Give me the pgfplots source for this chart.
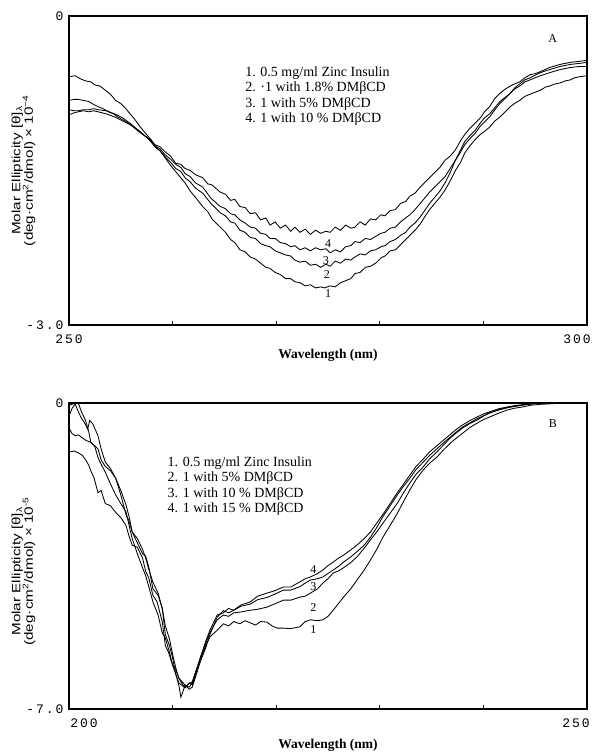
\documentclass[border=0pt]{standalone}
\usepackage{fontspec}
\setmainfont{Liberation Serif}
\setsansfont{Liberation Sans}
\newfontfamily\tickfont{Liberation Mono}[LetterSpace=15]
\usepackage{graphicx}
\usepackage{pgfplots}
\pgfplotsset{compat=1.18}
\tikzset{lbl/.style={font=\fontsize{12}{12}\selectfont}}
\newcommand{\wide}[1]{\scalebox{1.27}[1]{#1}}

\pgfplotstableread{
x y
250.0 -0.59
250.6 -0.58
251.1 -0.61
251.6 -0.63
252.1 -0.64
252.5 -0.67
253.0 -0.68
253.5 -0.72
254.0 -0.76
254.5 -0.82
255.0 -0.85
255.4 -0.89
255.9 -0.95
256.4 -1.01
256.9 -1.08
257.4 -1.14
257.9 -1.20
258.3 -1.27
258.8 -1.31
259.3 -1.38
259.8 -1.45
260.3 -1.51
260.7 -1.56
261.2 -1.62
261.7 -1.70
262.2 -1.76
262.9 -1.85
263.4 -1.90
263.8 -1.97
264.6 -2.05
265.1 -2.10
265.6 -2.17
266.0 -2.20
266.5 -2.27
267.0 -2.29
267.5 -2.34
268.0 -2.36
268.5 -2.40
269.0 -2.44
269.4 -2.45
269.9 -2.49
270.4 -2.51
270.9 -2.55
271.4 -2.55
271.8 -2.58
272.3 -2.59
272.8 -2.62
273.3 -2.61
273.8 -2.64
274.3 -2.63
274.7 -2.64
275.2 -2.62
275.7 -2.63
276.2 -2.59
276.7 -2.57
277.2 -2.55
277.6 -2.50
278.1 -2.49
278.6 -2.44
279.1 -2.43
279.6 -2.40
280.1 -2.35
280.5 -2.33
281.0 -2.28
281.5 -2.27
282.0 -2.22
282.5 -2.17
282.9 -2.13
283.4 -2.08
283.9 -2.02
284.4 -1.94
284.8 -1.88
285.3 -1.82
285.8 -1.76
286.3 -1.69
286.8 -1.60
287.3 -1.50
287.8 -1.42
288.2 -1.33
288.7 -1.26
289.2 -1.20
289.7 -1.15
290.1 -1.12
290.6 -1.08
291.1 -1.02
291.6 -0.98
292.1 -0.93
292.6 -0.88
293.0 -0.85
293.5 -0.82
294.0 -0.78
294.5 -0.76
295.0 -0.74
295.5 -0.72
296.0 -0.69
296.4 -0.68
296.9 -0.66
297.4 -0.65
297.9 -0.63
298.4 -0.62
298.8 -0.60
299.3 -0.59
300.0 -0.58
}\topone

\pgfplotstableread{
x y
250.0 -0.82
250.5 -0.81
250.9 -0.81
251.4 -0.82
251.9 -0.83
252.4 -0.86
252.8 -0.88
253.3 -0.90
253.8 -0.93
254.3 -0.95
254.7 -0.98
255.4 -1.02
256.0 -1.06
256.7 -1.12
257.4 -1.17
257.9 -1.22
258.3 -1.27
258.8 -1.31
259.3 -1.37
259.8 -1.42
260.3 -1.48
260.8 -1.51
261.2 -1.57
261.7 -1.61
262.2 -1.67
262.9 -1.72
263.7 -1.82
264.6 -1.91
265.1 -1.94
265.6 -2.00
266.0 -2.01
266.5 -2.08
267.0 -2.10
267.5 -2.15
268.0 -2.16
268.5 -2.21
269.0 -2.23
269.4 -2.24
269.9 -2.28
270.4 -2.30
270.9 -2.32
271.4 -2.33
271.8 -2.37
272.3 -2.39
272.8 -2.38
273.3 -2.42
273.8 -2.41
274.3 -2.44
274.8 -2.41
275.2 -2.43
275.7 -2.38
276.2 -2.40
276.7 -2.36
277.2 -2.37
277.6 -2.34
278.1 -2.31
278.6 -2.32
279.1 -2.28
279.6 -2.27
280.1 -2.24
280.5 -2.23
281.0 -2.19
281.5 -2.17
282.0 -2.13
282.5 -2.10
282.9 -2.05
283.4 -2.01
283.9 -1.95
284.4 -1.88
284.8 -1.82
285.3 -1.76
285.8 -1.70
286.3 -1.62
286.8 -1.52
287.3 -1.40
287.8 -1.32
288.2 -1.25
288.7 -1.19
289.2 -1.14
289.7 -1.07
290.1 -1.03
290.6 -0.98
291.1 -0.91
291.6 -0.85
292.1 -0.80
292.6 -0.75
293.0 -0.71
293.5 -0.68
294.0 -0.64
294.5 -0.62
295.5 -0.58
296.4 -0.55
297.4 -0.52
298.4 -0.50
299.3 -0.49
300.0 -0.49
}\toptwo

\pgfplotstableread{
x y
250.0 -0.96
250.5 -0.94
250.9 -0.93
251.4 -0.92
251.9 -0.93
252.4 -0.92
252.8 -0.93
253.6 -0.95
254.4 -0.98
255.2 -1.02
256.0 -1.06
256.7 -1.11
257.4 -1.17
257.9 -1.21
258.3 -1.26
258.8 -1.29
259.3 -1.35
259.8 -1.39
260.3 -1.44
260.8 -1.47
261.2 -1.53
261.7 -1.56
262.2 -1.62
262.9 -1.66
263.7 -1.77
264.6 -1.85
265.1 -1.87
265.6 -1.92
266.0 -1.93
266.5 -1.98
267.0 -2.01
267.5 -2.05
268.0 -2.06
268.5 -2.11
269.0 -2.12
269.4 -2.16
269.9 -2.16
270.4 -2.20
270.9 -2.21
271.4 -2.24
271.8 -2.23
272.3 -2.27
272.8 -2.25
273.3 -2.28
273.8 -2.25
274.3 -2.27
274.8 -2.26
275.2 -2.30
275.7 -2.27
276.2 -2.29
276.7 -2.24
277.2 -2.23
277.6 -2.19
278.1 -2.20
278.6 -2.16
279.1 -2.17
279.6 -2.14
280.1 -2.11
280.5 -2.10
281.0 -2.06
281.5 -2.05
282.0 -2.00
282.5 -1.96
282.9 -1.93
283.4 -1.88
283.9 -1.82
284.4 -1.76
284.8 -1.71
285.3 -1.66
285.8 -1.61
286.3 -1.56
286.8 -1.48
287.3 -1.40
287.8 -1.30
288.2 -1.22
288.7 -1.16
289.2 -1.11
289.7 -1.04
290.1 -0.99
290.6 -0.95
291.1 -0.89
291.6 -0.83
292.1 -0.79
292.6 -0.75
293.0 -0.70
293.5 -0.66
294.0 -0.62
294.5 -0.60
295.5 -0.55
296.4 -0.52
297.4 -0.49
298.4 -0.47
299.3 -0.46
300.0 -0.45
}\topthree

\pgfplotstableread{
x y
250.0 -0.91
250.5 -0.92
250.9 -0.92
251.4 -0.91
251.9 -0.91
252.4 -0.90
252.8 -0.91
253.6 -0.92
254.4 -0.95
255.2 -0.99
256.0 -1.05
256.7 -1.11
257.4 -1.17
257.9 -1.20
258.3 -1.25
258.8 -1.27
259.3 -1.32
259.8 -1.36
260.3 -1.43
260.8 -1.44
261.2 -1.48
261.7 -1.50
262.2 -1.54
262.9 -1.57
263.4 -1.63
263.8 -1.64
264.6 -1.71
265.1 -1.73
265.6 -1.79
266.0 -1.78
266.5 -1.85
267.0 -1.86
267.5 -1.92
268.0 -1.91
268.5 -1.98
269.0 -1.96
269.4 -2.03
269.9 -2.00
270.4 -2.06
270.9 -2.03
271.4 -2.09
271.8 -2.05
272.3 -2.10
272.8 -2.07
273.3 -2.12
273.8 -2.08
274.3 -2.11
274.8 -2.09
275.2 -2.10
275.7 -2.05
276.2 -2.08
276.7 -2.03
277.2 -2.06
277.6 -2.05
278.1 -2.00
278.6 -2.03
279.1 -1.97
279.6 -1.98
280.1 -1.93
280.5 -1.94
281.0 -1.89
281.5 -1.88
282.0 -1.82
282.5 -1.80
282.9 -1.75
283.4 -1.72
283.9 -1.66
284.4 -1.61
284.8 -1.57
285.3 -1.52
285.8 -1.47
286.3 -1.40
286.8 -1.36
287.3 -1.30
287.8 -1.21
288.2 -1.15
288.7 -1.09
289.2 -1.04
289.7 -0.99
290.1 -0.93
290.6 -0.88
291.1 -0.80
291.6 -0.75
292.1 -0.71
292.6 -0.68
293.0 -0.66
293.5 -0.64
294.0 -0.60
294.5 -0.57
295.0 -0.56
295.5 -0.54
296.4 -0.50
297.4 -0.47
298.4 -0.45
299.3 -0.44
300.0 -0.43
}\topfour

\pgfplotstableread{
x y
200.0 -1.12
200.5 -1.10
200.9 -1.14
201.3 -1.20
201.6 -1.30
201.9 -1.42
202.1 -1.55
202.4 -1.70
202.8 -2.05
203.1 -2.00
203.5 -2.30
204.0 -2.35
204.5 -2.50
205.0 -2.62
205.5 -2.80
205.8 -3.05
206.1 -3.25
206.6 -3.30
207.1 -3.55
207.4 -3.85
207.7 -4.00
208.1 -4.40
208.5 -4.55
209.0 -5.00
209.3 -5.55
209.6 -5.70
210.0 -6.00
210.3 -6.20
210.6 -6.45
210.8 -6.73
211.0 -6.60
211.2 -6.45
211.6 -6.50
211.9 -6.40
212.3 -6.10
212.7 -5.85
213.2 -5.55
213.6 -5.35
214.3 -5.20
214.9 -5.05
215.4 -5.10
215.9 -5.00
216.5 -5.05
217.0 -4.98
217.5 -5.03
218.0 -5.08
218.5 -5.00
219.1 -5.01
219.6 -5.10
220.1 -5.15
220.7 -5.15
221.4 -5.16
222.3 -5.12
222.8 -5.00
223.3 -4.96
224.0 -4.98
224.5 -4.96
225.0 -4.88
225.5 -4.74
226.5 -4.44
227.2 -4.25
227.8 -4.05
228.5 -3.82
229.1 -3.59
229.7 -3.35
230.3 -3.07
231.0 -2.80
231.7 -2.52
232.3 -2.25
232.9 -1.99
233.5 -1.75
234.2 -1.53
234.8 -1.38
235.5 -1.24
236.2 -1.06
236.8 -0.92
237.4 -0.80
238.0 -0.69
238.7 -0.56
239.4 -0.46
240.0 -0.38
240.6 -0.32
241.5 -0.23
242.3 -0.16
243.0 -0.12
243.8 -0.09
244.6 -0.05
245.5 -0.03
247.1 -0.01
248.5 0.00
250.0 0.00
}\botone

\pgfplotstableread{
x y
200.0 -0.57
200.3 -0.70
200.6 -0.75
200.9 -0.73
201.3 -0.80
201.6 -0.85
202.1 -0.90
202.5 -0.98
202.8 -1.05
203.1 -1.30
203.5 -1.45
204.0 -1.55
204.5 -1.72
205.0 -2.00
205.5 -2.33
205.8 -2.60
206.1 -2.95
206.6 -3.10
207.1 -3.35
207.4 -3.55
207.7 -3.80
208.1 -4.10
208.6 -4.35
209.0 -4.70
209.3 -5.10
209.7 -5.40
210.0 -5.75
210.3 -6.05
210.6 -6.30
211.0 -6.45
211.2 -6.50
211.6 -6.42
211.9 -6.38
212.3 -6.10
212.7 -5.81
213.2 -5.50
213.6 -5.25
214.3 -4.96
214.9 -4.85
215.4 -4.88
215.9 -4.80
216.6 -4.78
217.5 -4.74
218.2 -4.72
219.1 -4.67
219.8 -4.60
220.7 -4.51
221.4 -4.51
222.3 -4.44
222.8 -4.42
223.3 -4.35
224.0 -4.25
224.5 -4.12
225.0 -4.02
225.5 -3.89
226.0 -3.84
226.5 -3.77
227.2 -3.65
227.8 -3.52
228.5 -3.32
229.1 -3.13
229.7 -2.95
230.3 -2.75
231.0 -2.52
231.7 -2.29
232.3 -2.05
232.9 -1.83
233.5 -1.63
234.2 -1.46
234.8 -1.28
235.5 -1.12
236.2 -0.95
236.8 -0.80
237.4 -0.68
238.0 -0.57
238.7 -0.47
239.4 -0.39
240.0 -0.30
240.6 -0.23
241.5 -0.16
242.3 -0.11
243.0 -0.08
243.8 -0.05
244.6 -0.02
245.5 0.00
250.0 0.00
}\bottwo

\pgfplotstableread{
x y
200.0 -0.30
200.3 -0.12
200.6 -0.02
200.9 -0.20
201.2 -0.35
201.5 -0.45
201.8 -0.60
202.0 -0.40
202.3 -0.48
202.8 -0.75
203.1 -1.05
203.5 -1.35
204.0 -1.50
204.5 -1.72
205.0 -2.10
205.5 -2.55
205.8 -2.70
206.1 -2.95
206.6 -3.20
207.1 -3.45
207.4 -3.50
207.7 -3.75
208.1 -4.25
208.6 -4.40
209.0 -4.69
209.3 -5.30
209.7 -5.55
210.0 -5.83
210.3 -6.20
210.6 -6.40
211.0 -6.48
211.2 -6.52
211.6 -6.40
211.9 -6.45
212.3 -6.15
212.7 -5.81
213.2 -5.45
213.6 -5.20
214.3 -4.85
214.9 -4.80
215.4 -4.70
215.9 -4.74
216.6 -4.65
217.5 -4.60
218.2 -4.50
219.1 -4.45
219.8 -4.38
220.7 -4.28
221.4 -4.28
222.3 -4.20
222.8 -4.12
223.3 -4.05
224.0 -4.02
224.5 -3.98
225.0 -3.90
225.5 -3.82
226.0 -3.74
226.5 -3.64
227.2 -3.52
227.8 -3.40
228.5 -3.25
229.1 -3.07
229.7 -2.85
230.3 -2.60
231.0 -2.35
231.7 -2.10
232.3 -1.90
232.9 -1.72
233.5 -1.52
234.2 -1.35
234.8 -1.20
235.5 -1.05
236.2 -0.90
236.8 -0.78
237.4 -0.66
238.0 -0.55
238.7 -0.45
239.4 -0.36
240.0 -0.29
240.6 -0.22
241.5 -0.15
242.3 -0.10
243.0 -0.07
243.8 -0.04
244.6 -0.02
245.5 0.00
250.0 0.00
}\botthree

\pgfplotstableread{
x y
200.0 -0.05
200.4 -0.02
200.9 0.00
201.2 -0.20
201.6 -0.40
201.9 -0.65
202.1 -0.89
202.5 -1.00
202.8 -1.25
203.1 -1.40
203.5 -1.58
204.0 -1.85
204.5 -2.10
205.0 -2.30
205.5 -2.49
205.8 -2.80
206.1 -3.10
206.6 -3.45
207.1 -3.77
207.4 -3.95
207.7 -4.20
208.1 -4.55
208.6 -4.85
209.0 -5.26
209.3 -5.38
209.7 -5.70
210.0 -5.99
210.3 -6.10
210.6 -6.29
211.0 -6.40
211.2 -6.45
211.6 -6.55
211.9 -6.50
212.3 -6.20
212.7 -5.90
213.2 -5.60
213.6 -5.30
214.3 -4.90
214.9 -4.75
215.4 -4.80
215.9 -4.74
216.6 -4.62
217.5 -4.55
218.2 -4.42
219.1 -4.35
219.8 -4.30
220.7 -4.21
221.4 -4.21
222.3 -4.09
222.8 -4.02
223.3 -3.98
224.0 -3.90
224.5 -3.82
225.0 -3.72
225.5 -3.64
226.0 -3.55
226.5 -3.48
227.2 -3.36
227.8 -3.25
228.5 -3.10
229.1 -2.95
229.7 -2.75
230.3 -2.55
231.0 -2.30
231.7 -2.05
232.3 -1.85
232.9 -1.65
233.5 -1.45
234.2 -1.28
234.8 -1.12
235.5 -0.98
236.2 -0.84
236.8 -0.72
237.4 -0.60
238.0 -0.50
238.7 -0.40
239.4 -0.32
240.0 -0.25
240.6 -0.20
241.5 -0.13
242.3 -0.09
243.0 -0.06
243.8 -0.04
244.6 -0.02
245.5 0.00
250.0 0.00
}\botfour

\pgfplotsset{
  cdstyle/.style={
    scale only axis,
    width=518pt,
    anchor=south west,
    axis line style={line width=1.1pt},
    tick align=inside,
    xtick pos=bottom,
    ytick pos=left,
    major tick length=4pt,
    tick style={line width=0.8pt, black},
    yticklabel style={font=\tickfont\fontsize{13}{13}\selectfont, xshift=-2pt},
    xticklabel style={font=\tickfont\fontsize{13}{13}\selectfont, yshift=-6pt},
    ylabel style={align=center, font=\sffamily\fontsize{12}{12.5}\selectfont, anchor=center},
    xlabel style={at={(axis description cs:0.5,0)}, anchor=center, font=\fontsize{13.5}{15}\selectfont\bfseries},
    cycle list={{black, solid, mark=none}},
    every axis plot post/.append style={line width=0.85pt},
  }
}

\begin{document}
\begin{tikzpicture}
\path[use as bounding box] (0,0) rectangle (592pt,755pt);

% ---------- Panel A ----------
\begin{axis}[cdstyle,
  at={(69pt,430pt)}, height=309pt,
  xmin=250, xmax=300, ymin=-3, ymax=0,
  xtick={250,260,270,280,290,300},
  xticklabels={250,,,,,\makebox[0pt]{\hspace{-20pt}300}},
  ytick={-3,0},
  yticklabels={-3.0,0},
  ylabel={\wide{Molar Ellipticity [θ]\textsubscript{λ}}\\\wide{(deg·cm\textsuperscript{2}/dmol) × 10\textsuperscript{−4}}},
  ylabel style={at={(axis description cs:-0.088,0.5)}},
  xlabel={Wavelength (nm)},
  xlabel style={yshift=-30pt},
]
\addplot table[x=x,y=y] {\topone};
\addplot table[x=x,y=y] {\toptwo};
\addplot table[x=x,y=y] {\topthree};
\addplot table[x=x,y=y] {\topfour};
\node[lbl] at (axis cs:275.0,-2.69) {1};
\node[lbl] at (axis cs:274.9,-2.51) {2};
\node[lbl] at (axis cs:274.8,-2.37) {3};
\node[lbl] at (axis cs:275.0,-2.21) {4};
\node[anchor=north west, align=left, inner sep=0pt, font=\fontsize{14}{15.5}\selectfont]
  at (axis cs:267.0,-0.49) {1. 0.5 mg/ml Zinc Insulin\\2. ·1 with 1.8\% DMβCD\\3. 1 with 5\% DMβCD\\4. 1 with 10 \% DMβCD};
\node[lbl] at (axis cs:296.7,-0.22) {A};
\end{axis}

% ---------- Panel B ----------
\begin{axis}[cdstyle,
  at={(69pt,46pt)}, height=306pt,
  xmin=200, xmax=250, ymin=-7, ymax=0,
  xtick={200,210,220,230,240,250},
  xticklabels={\makebox[0pt]{\hspace{30pt}200},,,,,\makebox[0pt]{\hspace{-22pt}250}},
  ytick={-7,0},
  yticklabels={-7.0,0},
  ylabel={\wide{Molar Ellipticity [θ]\textsubscript{λ}}\\\wide{(deg·cm\textsuperscript{2}/dmol) × 10\textsuperscript{-5}}},
  ylabel style={at={(axis description cs:-0.088,0.45)}},
  xlabel={Wavelength (nm)},
  xlabel style={yshift=-36pt},
]
\addplot table[x=x,y=y] {\botone};
\addplot table[x=x,y=y] {\bottwo};
\addplot table[x=x,y=y] {\botthree};
\addplot table[x=x,y=y] {\botfour};
\node[lbl] at (axis cs:223.6,-5.19) {1};
\node[lbl] at (axis cs:223.6,-4.67) {2};
\node[lbl] at (axis cs:223.6,-4.21) {3};
\node[lbl] at (axis cs:223.6,-3.82) {4};
\node[anchor=north west, align=left, inner sep=0pt, font=\fontsize{14}{15.5}\selectfont]
  at (axis cs:209.5,-1.22) {1. 0.5 mg/ml Zinc Insulin\\2. 1 with 5\% DMβCD\\3. 1 with 10 \% DMβCD\\4. 1 with 15 \% DMβCD};
\node[lbl] at (axis cs:246.7,-0.48) {B};
\end{axis}
\end{tikzpicture}
\end{document}
